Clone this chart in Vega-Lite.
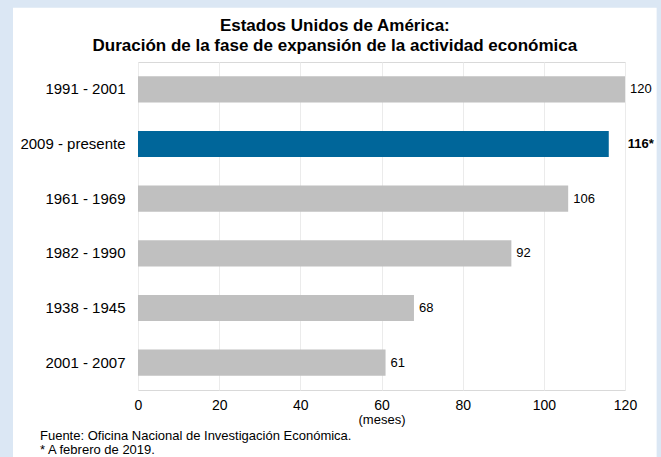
{
  "$schema": "https://vega.github.io/schema/vega-lite/v6.json",
  "autosize": {"type": "none"},
  "padding": {"left": 138, "top": 62, "right": 36, "bottom": 67},
  "width": 487,
  "height": 328,
  "background": "#ffffff",
  "title": {
    "text": ["Estados Unidos de América:", "Duración de la fase de expansión de la actividad económica"],
    "font": "Liberation Sans",
    "fontSize": 17,
    "fontWeight": "bold",
    "color": "#000000",
    "lineHeight": 20,
    "anchor": "middle",
    "frame": "bounds",
    "offset": -73
  },
  "config": {
    "font": "Liberation Sans",
    "view": {"stroke": "#d9d9d9", "strokeWidth": 1, "fill": "#ffffff"},
    "axis": {"labelFont": "Liberation Sans", "titleFont": "Liberation Sans"}
  },
  "resolve": {"scale": {"y": "independent"}, "axis": {"y": "independent"}},
  "layer": [
    {
      "data": {
        "values": [
          {"periodo": "1991 - 2001", "meses": 120, "etiqueta": "120", "actual": false},
          {"periodo": "2009 - presente", "meses": 116, "etiqueta": "116*", "actual": true},
          {"periodo": "1961 - 1969", "meses": 106, "etiqueta": "106", "actual": false},
          {"periodo": "1982 - 1990", "meses": 92, "etiqueta": "92", "actual": false},
          {"periodo": "1938 - 1945", "meses": 68, "etiqueta": "68", "actual": false},
          {"periodo": "2001 - 2007", "meses": 61, "etiqueta": "61", "actual": false}
        ]
      },
      "encoding": {
        "y": {
          "field": "periodo",
          "type": "nominal",
          "sort": null,
          "scale": {"paddingInner": 0.52, "paddingOuter": 0.26},
          "axis": {
            "title": null,
            "labelFontSize": 15,
            "labelColor": "#000000",
            "labelPadding": 13,
            "ticks": false,
            "tickSize": 0,
            "domain": false,
            "grid": false
          }
        },
        "x": {
          "field": "meses",
          "type": "quantitative",
          "scale": {"domain": [0, 120], "nice": false},
          "axis": {
            "title": "(meses)",
            "titleFontSize": 13,
            "titleFontWeight": "normal",
            "titleColor": "#000000",
            "titlePadding": 1,
            "values": [0, 20, 40, 60, 80, 100, 120],
            "labelFontSize": 14,
            "labelColor": "#000000",
            "labelPadding": 8,
            "labelFlush": false,
            "ticks": false,
            "tickSize": 0,
            "domain": false,
            "grid": true,
            "gridColor": "#ebebeb",
            "gridWidth": 1
          }
        }
      },
      "layer": [
        {
          "mark": {"type": "bar"},
          "encoding": {
            "color": {
              "condition": {"test": "datum.actual", "value": "#00669a"},
              "value": "#c0c0c0"
            }
          }
        },
        {
          "transform": [{"filter": "!datum.actual"}],
          "mark": {"type": "text", "align": "left", "baseline": "middle", "dx": 5, "fontSize": 13, "color": "#000000"},
          "encoding": {"text": {"field": "etiqueta"}}
        },
        {
          "transform": [{"filter": "datum.actual"}],
          "mark": {"type": "text", "align": "left", "baseline": "middle", "dx": 19, "fontSize": 13, "fontWeight": "bold", "color": "#000000"},
          "encoding": {"text": {"field": "etiqueta"}}
        }
      ]
    },
    {
      "data": {"values": [{"marco": 1}]},
      "layer": [
        {
          "mark": {"type": "text", "align": "left", "baseline": "middle", "fontSize": 13, "lineHeight": 14, "color": "#000000",
                   "text": ["Fuente: Oficina Nacional de Investigación Económica.", "* A febrero de 2019."]},
          "encoding": {
            "x": {"datum": -24.15, "type": "quantitative", "scale": {"domain": [0, 120], "nice": false}},
            "y": {"datum": -0.14, "type": "quantitative", "scale": {"domain": [0, 1], "nice": false, "zero": false}, "axis": null}
          }
        },
        {
          "mark": {"type": "rect", "filled": false, "color": "#dbe7f4", "strokeWidth": 26, "strokeOpacity": 1},
          "encoding": {
            "x": {"datum": -34, "type": "quantitative", "scale": {"domain": [0, 120], "nice": false}},
            "x2": {"datum": 131},
            "y": {"datum": 1.205, "type": "quantitative", "scale": {"domain": [0, 1], "nice": false, "zero": false}, "axis": null},
            "y2": {"datum": -0.25}
          }
        }
      ]
    }
  ]
}
